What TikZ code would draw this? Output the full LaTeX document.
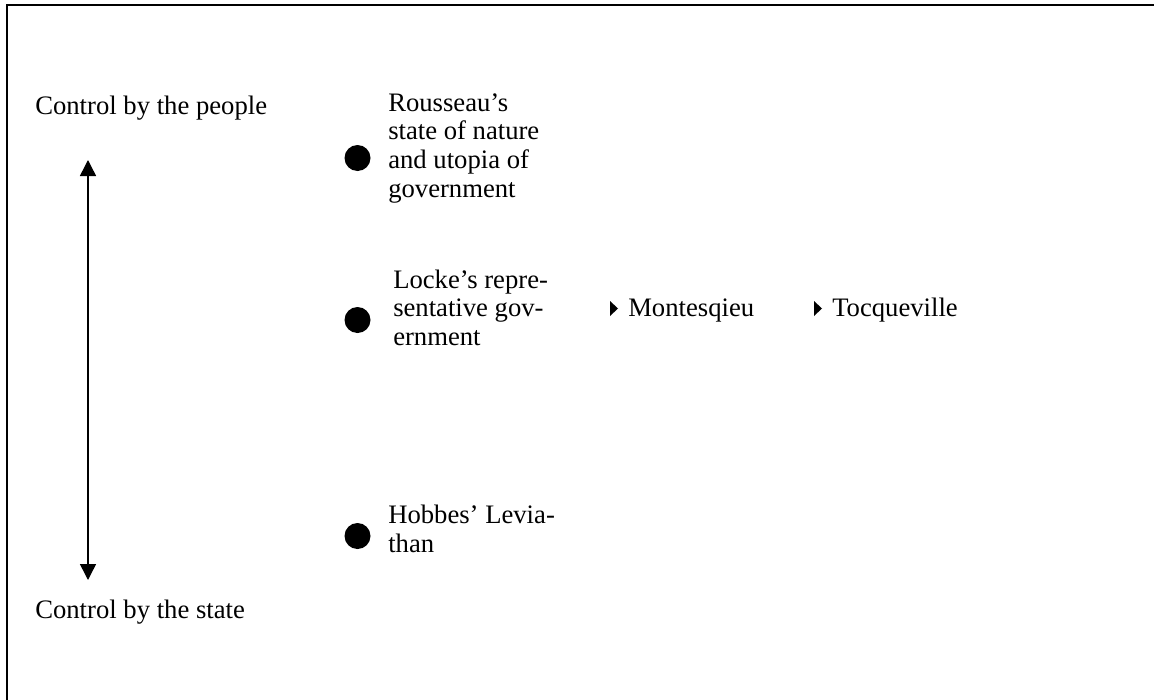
\documentclass[tikz,border=0pt]{standalone}
\usepackage{fontspec}
\setmainfont{Liberation Serif}
\usetikzlibrary{arrows.meta}
\begin{document}
\begin{tikzpicture}[x=0.75pt,y=-0.75pt,
  txt/.style={anchor=base west,inner sep=0pt,align=left,
    font=\fontsize{20}{21.5}\selectfont},
  bullet/.style={circle,fill=black,inner sep=0pt,minimum size=19.5pt},
  frameline/.style={line width=1.5pt,line cap=rect},
  scale arrow/.style={line width=1.1pt,
    {Triangle[width=12pt,length=12pt]}-{Triangle[width=12pt,length=12pt]}},
  tip/.style={fill=black}]
\useasboundingbox (0,0) rectangle (1154,700);

% frame (top and left edges)
\draw[frameline] (7,700) -- (7,5) -- (1154,5);

% vertical scale
\node[txt] (people) at (35,114) {Control by the people};
\node[txt] (state) at (35,618) {Control by the state};
\coordinate (top) at (88,160);
\coordinate (bottom) at (88,580);
\draw[scale arrow] (bottom) -- (top);

% theories along the scale (anchored at the baseline of the last line)
\node[bullet] (dotR) at (357.5,158) {};
\node[txt] (rousseau) at (388,197)
  {Rousseau’s\\state of nature\\and utopia of\\government};

\node[bullet] (dotL) at (357.5,320) {};
\node[txt] (locke) at (393,345.5)
  {Locke’s repre-\\sentative gov-\\ernment};

\node[bullet] (dotH) at (357.5,536) {};
\node[txt] (hobbes) at (388,552.5) {Hobbes’ Levia-\\than};

% later thinkers
\node[txt] (montesquieu) at (628,316) {Montesqieu};
\node[txt] (tocqueville) at (832,316) {Tocqueville};
\fill[tip] ([shift={(-18,0)}]montesquieu.base west)
  -- ++(0,-15) -- ++(8,7.5) -- cycle;
\fill[tip] ([shift={(-18,0)}]tocqueville.base west)
  -- ++(0,-15) -- ++(8,7.5) -- cycle;
\end{tikzpicture}
\end{document}
